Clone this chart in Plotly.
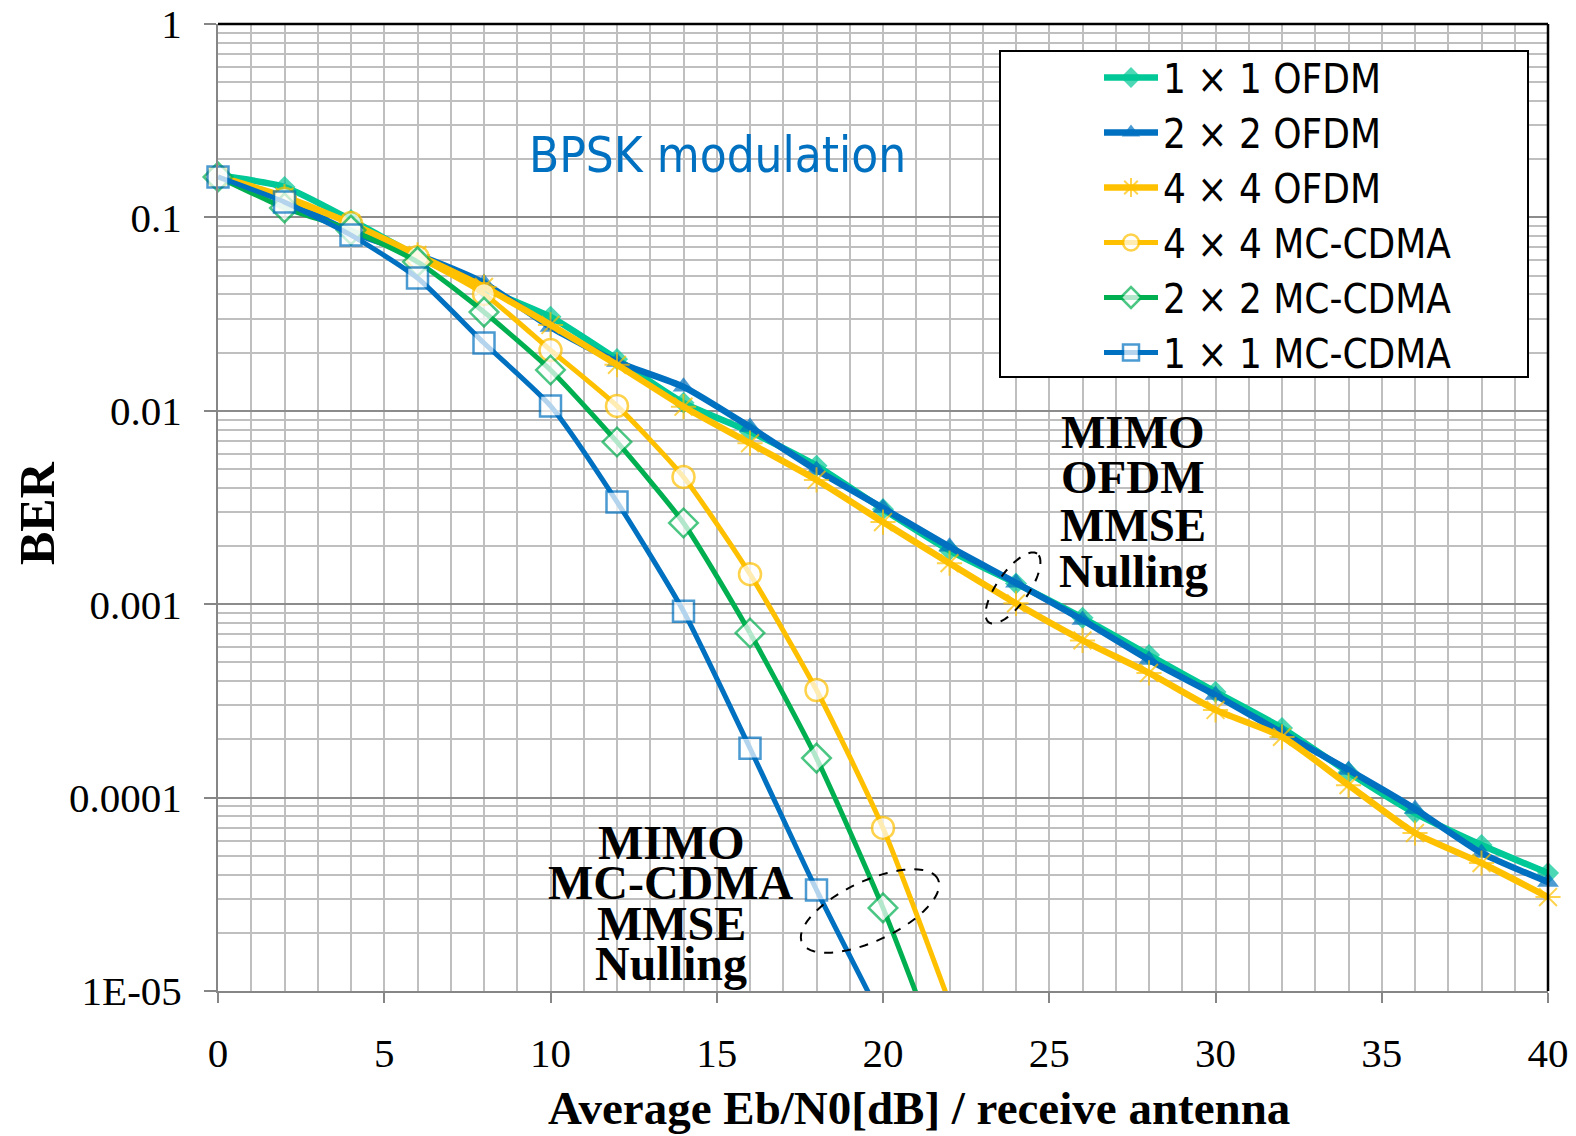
import math
import plotly.graph_objects as go

# ---------------- data ----------------
SNR_OFDM = [0, 2, 4, 6, 8, 10, 12, 14, 16, 18, 20, 22, 24, 26, 28, 30, 32, 34, 36, 38, 40]
BER_1x1_OFDM = [0.165, 0.1436, 0.097, 0.063, 0.043, 0.0306, 0.0185, 0.011, 0.0078, 0.0052, 0.0031,
                0.0019, 0.00128, 0.00085, 0.000546, 0.000352, 0.000229, 0.000135, 0.0000832,
                0.0000569, 0.0000407]
BER_2x2_OFDM = [0.162, 0.123, 0.084, 0.064, 0.0458, 0.0271, 0.0179, 0.0133, 0.00824, 0.00494, 0.00314,
                0.00198, 0.00129, 0.000828, 0.000515, 0.000339, 0.000216, 0.000139, 0.0000873,
                0.0000517, 0.0000366]
BER_4x4_OFDM = [0.163, 0.128, 0.093, 0.064, 0.0437, 0.0278, 0.0173, 0.0105, 0.0068, 0.00439, 0.00266,
                0.00163, 0.00101, 0.00065, 0.000441, 0.000284, 0.000206, 0.000116, 0.0000656,
                0.0000459, 0.0000306]

SNR_MC_4x4 = [0, 2, 4, 6, 8, 10, 12, 14, 16, 18, 20, 22]
BER_4x4_MC = [0.162, 0.125, 0.0935, 0.0625, 0.0402, 0.0206, 0.0106, 0.00455, 0.00143, 0.00036,
              0.0000697, 0.0000087]
SNR_MC_2x2 = [0, 2, 4, 6, 8, 10, 12, 14, 16, 18, 20, 22]
BER_2x2_MC = [0.162, 0.112, 0.086, 0.0589, 0.0324, 0.01626, 0.0069, 0.00263, 0.00071, 0.00016,
              0.0000269, 0.0000034]
SNR_MC_1x1 = [0, 2, 4, 6, 8, 10, 12, 14, 16, 18, 20]
BER_1x1_MC = [0.162, 0.120, 0.081, 0.0486, 0.0224, 0.0106, 0.00338, 0.00092, 0.00018, 0.0000333,
              0.000007]

Y_TICKVALS = [1, 0.1, 0.01, 0.001, 0.0001, 0.00001]
Y_TICKTEXT = ["1", "0.1", "0.01", "0.001", "0.0001", "1E-05"]
X_TITLE = "Average Eb/N0[dB] / receive antenna"
Y_TITLE = "BER"

# ---------------- style ----------------
TEAL = "#00C896"
BLUE = "#0070C0"
YELLOW = "#FFC000"
GREEN = "#00B050"
YMIN, YMAX = 1e-5, 1.0

W, H = 1576, 1136
ML, MR, MT, MB = 218, 28, 24, 145
PW, PH = W - ML - MR, H - MT - MB
SERIF = "Liberation Serif, Times New Roman, serif"
SANS = "DejaVu Sans Condensed, Open Sans, sans-serif"


def px(x, y):
    """pixel -> paper coordinates"""
    return (x - ML) / PW, (H - MB - y) / PH


def sizes(vals, s):
    return [s if v >= YMIN else 0 for v in vals]


fig = go.Figure()

series = [
    ("1 × 1 OFDM", SNR_OFDM, BER_1x1_OFDM, TEAL, 6.5,
     dict(symbol="diamond", size=17, color=TEAL, line=dict(width=0))),
    ("2 × 2 OFDM", SNR_OFDM, BER_2x2_OFDM, BLUE, 6.5,
     dict(symbol="triangle-up", size=19, color=BLUE, line=dict(width=0))),
    ("4 × 4 OFDM", SNR_OFDM, BER_4x4_OFDM, YELLOW, 6.5,
     dict(symbol="asterisk-open", size=21, color=YELLOW, line=dict(width=2, color=YELLOW))),
    ("4 × 4 MC-CDMA", SNR_MC_4x4, BER_4x4_MC, YELLOW, 5,
     dict(symbol="circle", size=22, color="white", line=dict(width=2.5, color=YELLOW))),
    ("2 × 2 MC-CDMA", SNR_MC_2x2, BER_2x2_MC, GREEN, 5,
     dict(symbol="diamond", size=22, color="white", line=dict(width=2.5, color=GREEN))),
    ("1 × 1 MC-CDMA", SNR_MC_1x1, BER_1x1_MC, BLUE, 5,
     dict(symbol="square", size=21, color="white", line=dict(width=2.5, color=BLUE))),
]

for name, xs, ys, col, lw, mk in series:
    mk = dict(mk)
    mk["size"] = sizes(ys, mk["size"])
    fig.add_trace(go.Scatter(
        x=xs, y=ys, name=name, mode="lines+markers",
        line=dict(color=col, width=lw, shape="spline", smoothing=0.6),
        marker=mk, cliponaxis=False,
    ))

# ---------------- shapes ----------------
shapes = []
# legend box
x0, y0 = px(1000, 51)
x1, y1 = px(1528, 377)
shapes.append(dict(type="rect", xref="paper", yref="paper", x0=x0, y0=y1, x1=x1, y1=y0,
                   fillcolor="white", line=dict(color="black", width=2), layer="above"))
# top & right plot border
shapes.append(dict(type="line", xref="paper", yref="paper", x0=0, y0=1, x1=1, y1=1,
                   line=dict(color="black", width=2.5), layer="above"))
shapes.append(dict(type="line", xref="paper", yref="paper", x0=1, y0=0, x1=1, y1=1,
                   line=dict(color="black", width=2.5), layer="above"))


def ellipse_path(cx, cy, a, b, theta_deg, n=72):
    th = math.radians(theta_deg)
    pts = []
    for i in range(n + 1):
        t = 2 * math.pi * i / n
        ex = a * math.cos(th) * math.cos(t) - b * math.sin(th) * math.sin(t)
        ey = -(a * math.sin(th) * math.cos(t) + b * math.cos(th) * math.sin(t))
        pts.append(px(cx + ex, cy + ey))
    return "M" + " L".join(f"{p[0]:.5f},{p[1]:.5f}" for p in pts) + " Z"


shapes.append(dict(type="path", xref="paper", yref="paper", path=ellipse_path(1013, 588, 42, 16, 55),
                   line=dict(color="black", width=2, dash="dash"), layer="above"))
shapes.append(dict(type="path", xref="paper", yref="paper", path=ellipse_path(870, 911, 75, 30, 25),
                   line=dict(color="black", width=2, dash="dash"), layer="above"))

# ---------------- annotations ----------------
ann = []


def add_text(text, x, y, size, family, color="black", bold=False, angle=0):
    ax, ay = px(x, y)
    ann.append(dict(text=f"<b>{text}</b>" if bold else text, x=ax, y=ay, xref="paper", yref="paper",
                    showarrow=False, xanchor="center", yanchor="middle", textangle=angle,
                    font=dict(size=size, family=family, color=color)))


add_text("BPSK modulation", 717, 156, 49, SANS, color=BLUE)
for txt, yy in zip(["MIMO", "OFDM", "MMSE", "Nulling"], [432, 477, 525, 571]):
    add_text(txt, 1133, yy, 47, SERIF, bold=True)
for txt, yy in zip(["MIMO", "MC-CDMA", "MMSE", "Nulling"], [842, 882, 923, 963]):
    add_text(txt, 671, yy, 48, SERIF, bold=True)
add_text(X_TITLE, 919, 1108, 47, SERIF, bold=True)
add_text(Y_TITLE, 37, 513, 50, SERIF, bold=True, angle=-90)

minor_y = [m * 10.0 ** e for e in range(-5, 0) for m in range(2, 10)]

lx, ly = px(1099, 45)
fig.update_layout(
    width=W, height=H,
    margin=dict(l=ML, r=MR, t=MT, b=MB, autoexpand=False),
    paper_bgcolor="white", plot_bgcolor="white",
    shapes=shapes, annotations=ann,
    showlegend=True,
    legend=dict(x=lx, y=ly, xanchor="left", yanchor="top", bgcolor="rgba(0,0,0,0)",
                borderwidth=0, font=dict(family=SANS, size=40, color="black"),
                itemwidth=54, tracegroupgap=0, itemsizing="trace"),
    xaxis=dict(range=[0, 40], dtick=5, tick0=0, ticks="outside", ticklen=10, tickwidth=2,
               tickcolor="#868686", showline=True, linecolor="#868686", linewidth=2,
               showgrid=True, gridcolor="#BFBFBF", gridwidth=2, zeroline=False,
               ticklabelstandoff=15,
               tickfont=dict(family=SERIF, size=41, color="black"),
               minor=dict(dtick=1, tick0=0, showgrid=True, gridcolor="#BFBFBF", gridwidth=2, ticks="")),
    yaxis=dict(type="log", range=[math.log10(YMIN), math.log10(YMAX)], tickmode="array",
               tickvals=Y_TICKVALS, ticktext=Y_TICKTEXT, ticks="outside", ticklen=12, tickwidth=2,
               tickcolor="#868686", showline=True, linecolor="#868686", linewidth=2,
               showgrid=True, gridcolor="#8C8C8C", gridwidth=2, zeroline=False,
               ticklabelstandoff=14,
               tickfont=dict(family=SERIF, size=41, color="black"),
               minor=dict(tickvals=minor_y, showgrid=True, gridcolor="#BFBFBF", gridwidth=2, ticks="")),
)

fig.write_html("out.html", config={"displayModeBar": False},
               post_script="document.body.style.margin='0';")
